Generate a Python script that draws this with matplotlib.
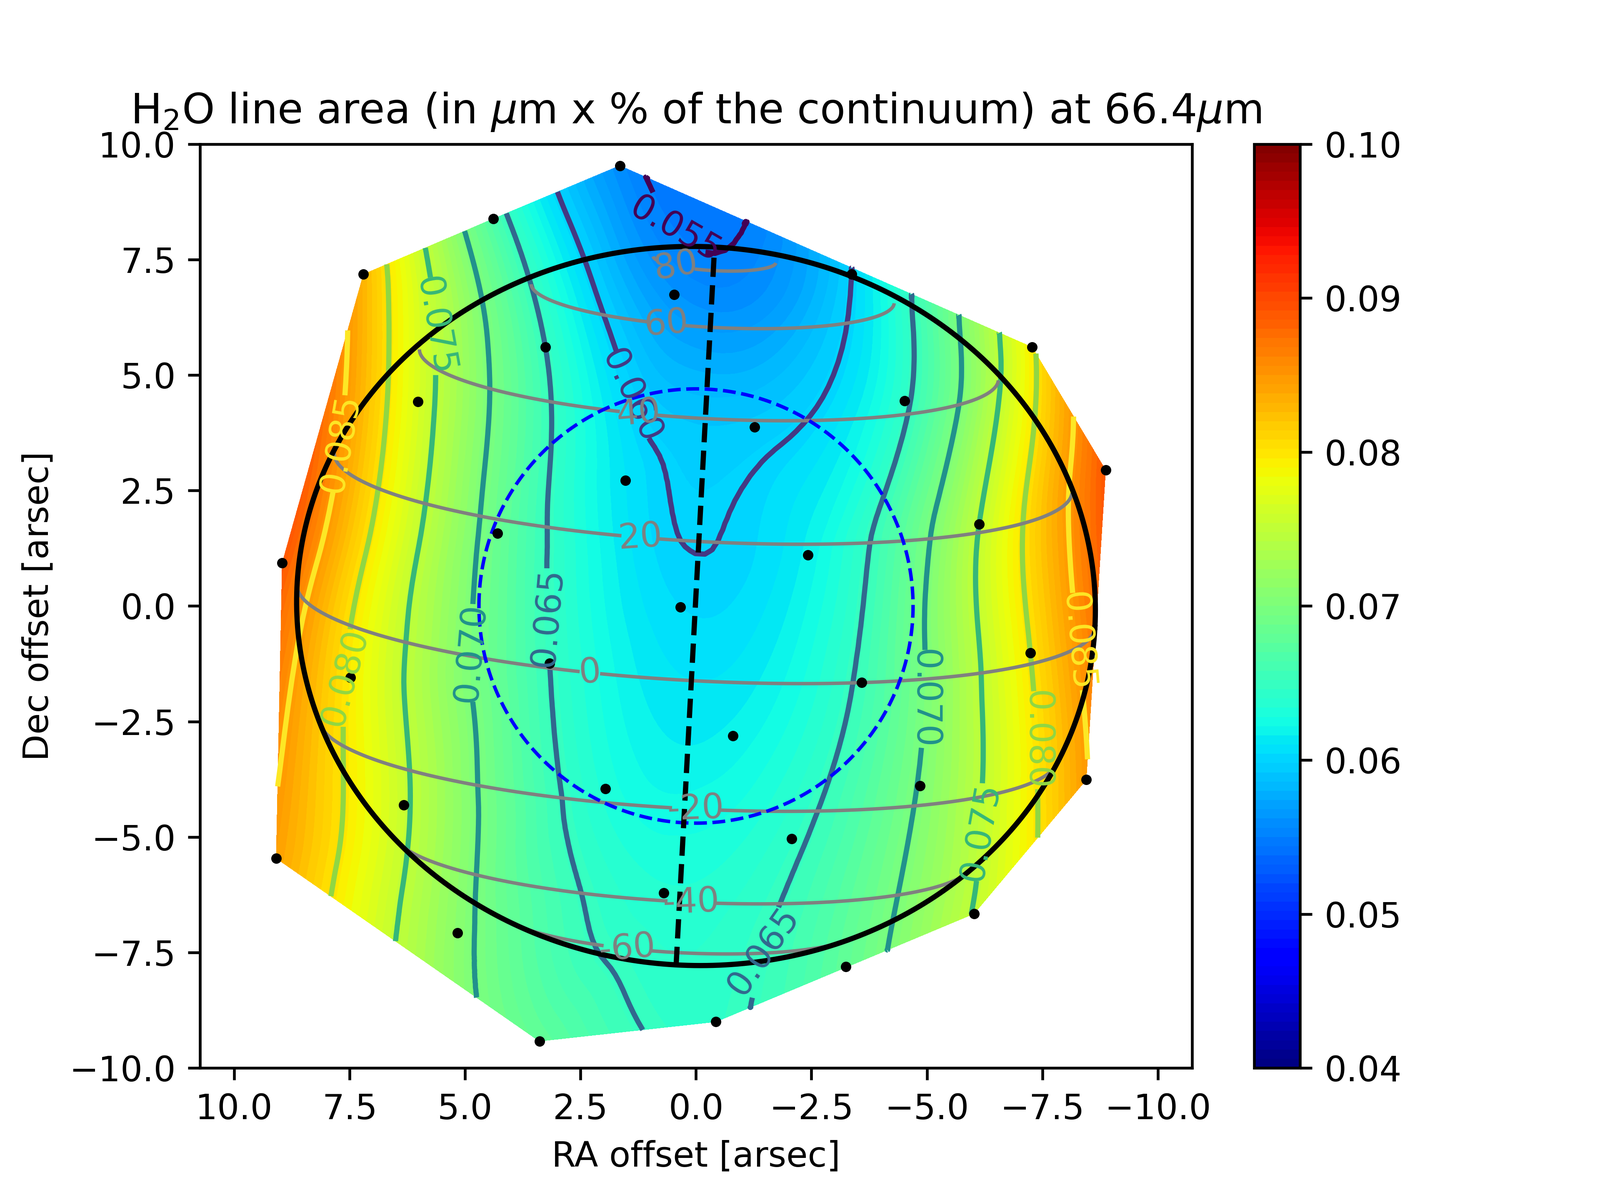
import numpy as np
from matplotlib import pyplot as plt
import matplotlib.tri as mtri

# spaxel positions [arcsec] and line area
ra = [1.65, 4.39, 7.2, 3.26, 0.47, -3.37, -7.28, -4.52, -1.27, 6.02, 1.53, -8.87, -6.13, 4.3, -2.42, 8.96, 0.34,
      -7.24, 3.17, -3.59, 7.48, -0.8, 1.96, -4.85, -8.45, 6.33, -2.07, 9.09, 0.7, 5.16, -6.02, -3.24, -0.43, 3.39]
dec = [9.53, 8.38, 7.18, 5.6, 6.74, 7.18, 5.6, 4.44, 3.87, 4.42, 2.72, 2.94, 1.77, 1.57, 1.1, 0.93, -0.02,
       -1.02, -1.24, -1.66, -1.55, -2.81, -3.96, -3.89, -3.76, -4.31, -5.04, -5.46, -6.21, -7.08, -6.66, -7.81, -9.0, -9.42]
area = [0.0558, 0.0665, 0.083, 0.065, 0.0563, 0.06, 0.0795, 0.0645, 0.0594, 0.0767, 0.061, 0.089, 0.075, 0.0685, 0.0618, 0.089, 0.0604,
        0.08, 0.065, 0.0655, 0.0795, 0.0618, 0.0632, 0.0702, 0.0848, 0.0755, 0.0645, 0.0843, 0.0635, 0.071, 0.0752, 0.068, 0.0645, 0.068]

fill_levels = np.linspace(0.04, 0.10, 101)
line_levels = [0.055, 0.06, 0.065, 0.07, 0.075, 0.08, 0.085]
cbar_ticks = [0.04, 0.05, 0.06, 0.07, 0.08, 0.09, 0.10]
area_label_pos = [(0.28, 8.43), (1.38, 4.56), (3.15, -0.24), (-1.58, -7.54), (4.83, -1.02), (-4.92, -2.01),
                  (5.65, 6.06), (-6.09, -4.89), (7.46, -1.57), (-7.41, -2.9), (7.75, 3.52), (-8.35, -0.75)]
area_label_rot = [-30, -65, 85, 55, 85, -90, -80, 80, 75, -90, 80, -85]

# planet geometry
eq_radius = 8.65
pol_radius = 7.78
pos_angle = 3.06
sub_lat = 12.0
lat_stretch = 1.13
fov_radius = 4.7
lat_levels = [-60, -40, -20, 0, 20, 40, 60, 80]
lat_label_pos = [(0.41, 7.54), (0.63, 6.26), (1.23, 4.36), (1.2, 1.59), (2.29, -1.33), (0.0, -4.31), (0.1, -6.37), (1.49, -7.46)]
axis_ra = [-0.39, 0.43]
axis_dec = [7.54, -7.77]


def latitude_map(x, y):
    # orthographic view of the tilted disc, east to the left, front half only
    p = np.radians(pos_angle)
    b = np.radians(sub_lat)
    e = (-x * np.cos(p) - y * np.sin(p)) / eq_radius
    n = (-x * np.sin(p) + y * np.cos(p)) / pol_radius
    r2 = e**2 + n**2
    z = np.sqrt(np.where(r2 < 1, 1 - r2, np.nan))
    z = np.where(z * np.cos(b) - n * np.sin(b) < 0, np.nan, z)
    s = n * np.cos(b) + z * np.sin(b)
    return np.degrees(np.arctan(np.tan(np.arcsin(s)) / lat_stretch))


fig = plt.figure(figsize=(6.4, 4.8), dpi=600)
ax = fig.add_subplot(111)

tri = mtri.Triangulation(ra, dec)
interp = mtri.CubicTriInterpolator(tri, np.array(area), kind='min_E')
refiner = mtri.UniformTriRefiner(tri)
tri_fine, area_fine = refiner.refine_field(np.array(area), triinterpolator=interp, subdiv=4)

cf = ax.tricontourf(tri_fine, area_fine, levels=fill_levels, cmap='jet', vmin=0.04, vmax=0.10)
cs = ax.tricontour(tri_fine, area_fine, levels=line_levels, cmap='viridis', linewidths=1.5)
ax.clabel(cs, fmt='%.3f', fontsize=10, manual=area_label_pos)
for txt, rot in zip(cs.labelTexts, area_label_rot):
    txt.set_rotation(rot)

gx, gy = np.meshgrid(np.linspace(-10.5, 10.5, 1200), np.linspace(-9.5, 9.5, 1200))
lat = np.ma.masked_invalid(latitude_map(gx, gy))
cl = ax.contour(gx, gy, lat, levels=lat_levels, colors='gray', linewidths=1.0, linestyles='solid')
ax.clabel(cl, fmt='%d', fontsize=10, manual=lat_label_pos)

t = np.linspace(0, 2 * np.pi, 400)
p = np.radians(pos_angle)
u = eq_radius * np.cos(t)
w = pol_radius * np.sin(t)
ax.plot(-(u * np.cos(p) + w * np.sin(p)), -u * np.sin(p) + w * np.cos(p), color='k', lw=1.5)
ax.plot(fov_radius * np.cos(t), fov_radius * np.sin(t), color='b', ls='--', lw=1.0)
ax.plot(axis_ra, axis_dec, 'k--', lw=1.5)
ax.plot(ra, dec, 'k.', ms=4)

ax.set_xlim(10.74, -10.74)
ax.set_ylim(-10, 10)
ax.set_xlabel('RA offset [arsec]')
ax.set_ylabel('Dec offset [arsec]')
ax.set_title(r'H$_2$O line area (in $\mu$m x % of the continuum) at 66.4$\mu$m')

cb = fig.colorbar(cf, ax=ax)
cb.set_ticks(cbar_ticks)
cb.set_ticklabels(['%.2f' % v for v in cbar_ticks])

plt.savefig('out.png', dpi=600)
